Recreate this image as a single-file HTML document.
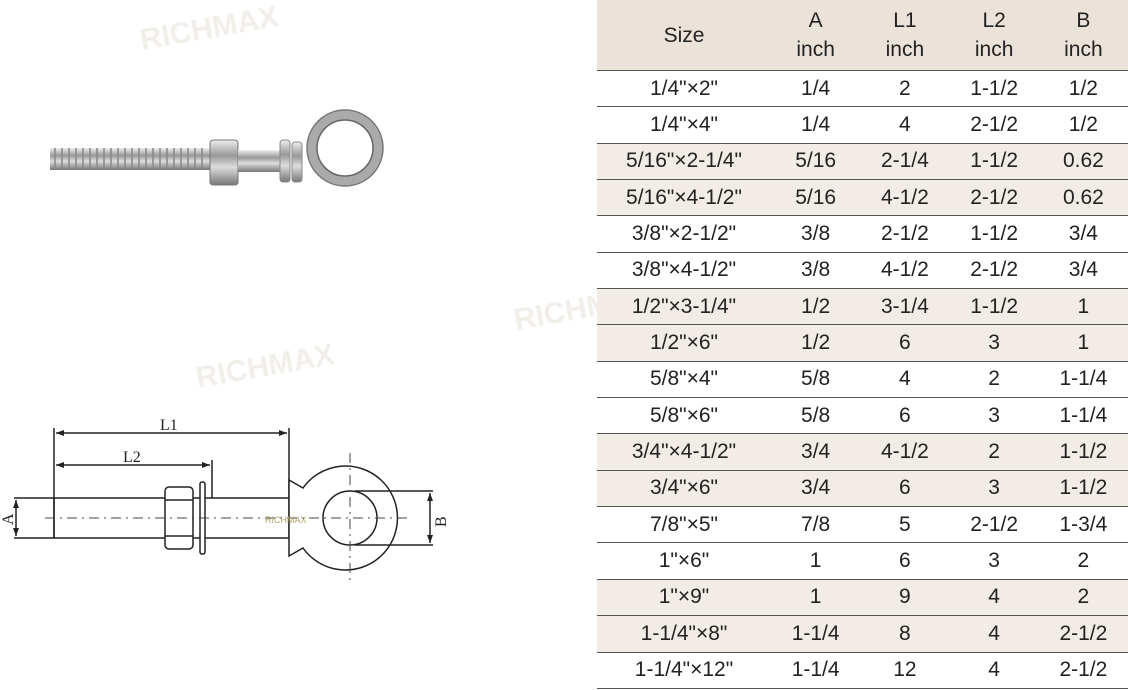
<!DOCTYPE html>
<html><head><style>
body{margin:0;width:1128px;height:690px;background:#fff;position:relative;overflow:hidden;font-family:"Liberation Sans",sans-serif}
table{position:absolute;left:597px;top:0;width:531px;height:689px;border-collapse:collapse;font-size:21px;color:#222}
td{text-align:center;padding:0;border-bottom:1.5px solid #555}
tr.h td{height:70px;background:#ebe3d9;line-height:29px;font-size:21px;border-bottom:1.5px solid #555}
tr.b td{background:#f1ece6}
</style></head><body>
<svg width="597" height="690" style="position:absolute;left:0;top:0">
<defs><linearGradient id="m" x1="0" y1="0" x2="0" y2="1"><stop offset="0" stop-color="#eee"/><stop offset=".35" stop-color="#999"/><stop offset=".6" stop-color="#ddd"/><stop offset="1" stop-color="#777"/></linearGradient></defs>
<rect x="50" y="148" width="165" height="22" fill="url(#m)"/>
<g stroke="#888" stroke-width="1.5">
<path d="M55 148v22M62 148v22M69 148v22M76 148v22M83 148v22M90 148v22M97 148v22M104 148v22M111 148v22M118 148v22M125 148v22M132 148v22M139 148v22M146 148v22M153 148v22M160 148v22M167 148v22M174 148v22M181 148v22M188 148v22M195 148v22M202 148v22"/></g>
<rect x="210" y="140" width="28" height="45" rx="3" fill="url(#m)" stroke="#777"/>
<rect x="238" y="150" width="45" height="22" fill="url(#m)"/>
<rect x="280" y="140" width="10" height="42" rx="3" fill="url(#m)" stroke="#888"/>
<rect x="292" y="142" width="10" height="40" rx="3" fill="url(#m)" stroke="#888"/>
<circle cx="345" cy="148" r="33" fill="none" stroke="#aaa" stroke-width="11"/>
<circle cx="345" cy="148" r="38" fill="none" stroke="#777" stroke-width="1.5"/>
<circle cx="345" cy="148" r="28" fill="none" stroke="#666" stroke-width="1.5"/>
<g stroke="#222" stroke-width="1.5" fill="none">
<line x1="54" y1="428" x2="54" y2="538"/><line x1="289" y1="428" x2="289" y2="498"/>
<line x1="56" y1="433" x2="287" y2="433"/>
<line x1="212" y1="460" x2="212" y2="498"/><line x1="56" y1="465" x2="210" y2="465"/>
<rect x="54" y="498" width="235" height="40"/>
<rect x="165" y="487" width="28" height="62" rx="4" fill="#fff"/>
<line x1="165" y1="500" x2="193" y2="500"/><line x1="165" y1="536" x2="193" y2="536"/>
<rect x="200" y="482" width="5" height="72" rx="2" fill="#fff"/>
<line x1="14" y1="498" x2="54" y2="498"/><line x1="14" y1="538" x2="54" y2="538"/>
<line x1="16" y1="500" x2="16" y2="536"/>
<path d="M289 480 L303 488 A52 52 0 1 1 303 548 L289 556 Z" fill="#fff"/>
<circle cx="350" cy="518" r="27"/>
<line x1="355" y1="491" x2="433" y2="491"/><line x1="355" y1="545" x2="433" y2="545"/>
<line x1="430" y1="493" x2="430" y2="543"/>
</g>
<g stroke="#444" stroke-width="1" stroke-dasharray="10,5,2,5" fill="none">
<line x1="45" y1="518" x2="410" y2="518"/><line x1="350" y1="453" x2="350" y2="585"/>
</g>
<g fill="#222">
<path d="M56 433l8-3v6zM287 433l-8-3v6zM56 465l8-3v6zM210 465l-8-3v6zM16 500l-3 8h6zM16 536l-3-8h6zM430 493l-3 8h6zM430 543l-3-8h6z"/>
</g>
<g font-family="Liberation Serif,serif" font-size="16" fill="#222">
<text x="160" y="430">L1</text><text x="123" y="462">L2</text>
<text transform="translate(13,525) rotate(-90)">A</text>
<text transform="translate(446,527) rotate(-90)">B</text>
</g>
<text x="265" y="523" font-size="9" fill="#b9a36a">RICHMAX</text>
<g font-size="30" font-weight="bold" fill="#f2efea">
<text x="142" y="50" transform="rotate(-10 142 50)">RICHMAX</text>
<text x="198" y="388" transform="rotate(-10 198 388)">RICHMAX</text>
<text x="516" y="330" transform="rotate(-10 516 330)">RICHMAX</text>
</g>
</svg>
<table>
<tr class="h"><td style="width:174px">Size</td><td>A<br>inch</td><td>L1<br>inch</td><td>L2<br>inch</td><td>B<br>inch</td></tr>
<tr><td>1/4"×2"</td><td>1/4</td><td>2</td><td>1-1/2</td><td>1/2</td></tr>
<tr><td>1/4"×4"</td><td>1/4</td><td>4</td><td>2-1/2</td><td>1/2</td></tr>
<tr class="b"><td>5/16"×2-1/4"</td><td>5/16</td><td>2-1/4</td><td>1-1/2</td><td>0.62</td></tr>
<tr class="b"><td>5/16"×4-1/2"</td><td>5/16</td><td>4-1/2</td><td>2-1/2</td><td>0.62</td></tr>
<tr><td>3/8"×2-1/2"</td><td>3/8</td><td>2-1/2</td><td>1-1/2</td><td>3/4</td></tr>
<tr><td>3/8"×4-1/2"</td><td>3/8</td><td>4-1/2</td><td>2-1/2</td><td>3/4</td></tr>
<tr class="b"><td>1/2"×3-1/4"</td><td>1/2</td><td>3-1/4</td><td>1-1/2</td><td>1</td></tr>
<tr class="b"><td>1/2"×6"</td><td>1/2</td><td>6</td><td>3</td><td>1</td></tr>
<tr><td>5/8"×4"</td><td>5/8</td><td>4</td><td>2</td><td>1-1/4</td></tr>
<tr><td>5/8"×6"</td><td>5/8</td><td>6</td><td>3</td><td>1-1/4</td></tr>
<tr class="b"><td>3/4"×4-1/2"</td><td>3/4</td><td>4-1/2</td><td>2</td><td>1-1/2</td></tr>
<tr class="b"><td>3/4"×6"</td><td>3/4</td><td>6</td><td>3</td><td>1-1/2</td></tr>
<tr><td>7/8"×5"</td><td>7/8</td><td>5</td><td>2-1/2</td><td>1-3/4</td></tr>
<tr><td>1"×6"</td><td>1</td><td>6</td><td>3</td><td>2</td></tr>
<tr class="b"><td>1"×9"</td><td>1</td><td>9</td><td>4</td><td>2</td></tr>
<tr class="b"><td>1-1/4"×8"</td><td>1-1/4</td><td>8</td><td>4</td><td>2-1/2</td></tr>
<tr><td>1-1/4"×12"</td><td>1-1/4</td><td>12</td><td>4</td><td>2-1/2</td></tr>
</table>
</body></html>
